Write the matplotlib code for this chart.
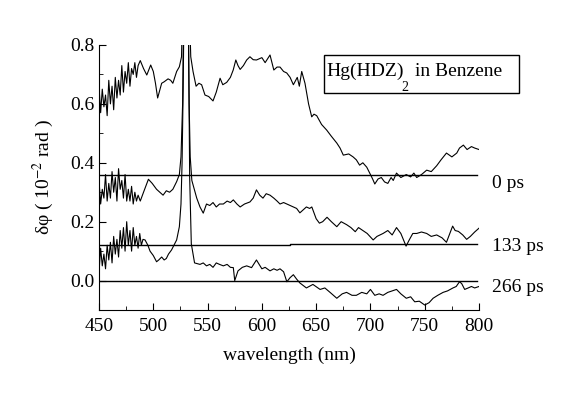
import numpy as np
import matplotlib.pyplot as plt
from matplotlib.ticker import MultipleLocator, FormatStrFormatter
from matplotlib.patches import Rectangle

plt.rcParams['font.family'] = 'Liberation Serif'
plt.rcParams['mathtext.fontset'] = 'stix'

# 0 ps spectrum (wavelength nm, delta phi)
wl_0 = [450, 451.5, 453, 454.5, 456, 457.5, 459, 460.5, 462, 463.5, 465, 466.5, 468, 469.5,
        471, 472.5, 474, 475.5, 477, 478.5, 480, 481.5, 483, 484.5, 486, 488, 491, 494, 497.6,
        500, 502, 504, 507.7, 510, 513.6, 516, 518, 521.5, 524, 526, 527, 528, 530, 532, 533,
        534.5, 536.6, 539.4, 542, 544.5, 547.6, 551, 555, 558, 561.5, 564, 567.6, 571, 573.6,
        576, 578, 580, 583, 586, 589, 592, 595, 600, 603, 607.5, 611, 614, 616.7, 620, 622.9,
        626, 629, 632.6, 634.5, 636.7, 639.7, 643, 645.9, 648, 650.5, 655, 659.7, 664, 669,
        672, 675, 680, 684, 687, 690, 693, 696.6, 700, 702, 704, 707, 710, 713, 716, 719, 721,
        724, 728, 733, 737, 740, 742.6, 747, 751.8, 756, 761, 765, 770, 775, 779.5, 782,
        785.6, 789, 793, 796, 800]
dphi_0 = [0.66, 0.57, 0.65, 0.59, 0.63, 0.56, 0.68, 0.60, 0.66, 0.58, 0.69, 0.62, 0.68, 0.63,
          0.73, 0.64, 0.71, 0.67, 0.74, 0.66, 0.72, 0.70, 0.74, 0.69, 0.73, 0.747, 0.72, 0.698,
          0.732, 0.71, 0.67, 0.62, 0.67, 0.675, 0.685, 0.68, 0.67, 0.71, 0.726, 0.76, 0.95, 1.3,
          1.6, 1.3, 0.95, 0.76, 0.71, 0.66, 0.67, 0.665, 0.63, 0.625, 0.61, 0.64, 0.687, 0.665,
          0.673, 0.69, 0.715, 0.749, 0.73, 0.717, 0.73, 0.749, 0.76, 0.75, 0.749, 0.757, 0.74,
          0.766, 0.715, 0.725, 0.725, 0.71, 0.705, 0.69, 0.665, 0.69, 0.66, 0.71, 0.67, 0.6,
          0.556, 0.565, 0.56, 0.53, 0.511, 0.49, 0.467, 0.45, 0.426, 0.43, 0.42, 0.41, 0.392,
          0.40, 0.385, 0.36, 0.345, 0.328, 0.345, 0.35, 0.335, 0.33, 0.35, 0.34, 0.365, 0.35,
          0.36, 0.352, 0.365, 0.35, 0.36, 0.375, 0.37, 0.39, 0.41, 0.433, 0.42, 0.433, 0.45,
          0.46, 0.445, 0.455, 0.45, 0.445]

# 133 ps spectrum
wl_133 = [450, 451.5, 453, 454.5, 456, 457.5, 459, 460.5, 462, 463.5, 465, 466.5, 468, 469.5,
          471, 472.5, 474, 475.5, 477, 478.5, 480, 481.5, 483, 484.5, 486, 488, 491, 495.5, 499,
          503, 506, 509, 512, 515, 518, 521.5, 524, 525.5, 527, 528, 530, 532, 533, 534,
          535.5, 537, 540, 543, 546, 549, 552, 555, 558, 561, 564.5, 568, 571, 573.7, 577, 580,
          584, 589, 592, 595, 598, 601, 604, 607.5, 611, 614, 616.7, 620, 623, 626, 629, 632,
          635, 638, 641, 644, 646, 650, 653, 656, 660, 664, 669, 673, 678, 682, 686, 689, 693,
          697, 702.5, 706, 711.6, 716, 720, 724, 728, 732.8, 736, 739, 742.6, 747, 751.8, 756,
          761, 766, 770, 775.7, 778, 781, 785, 788.6, 792, 796, 800]
dphi_133 = [0.34, 0.26, 0.31, 0.28, 0.36, 0.27, 0.33, 0.28, 0.37, 0.30, 0.35, 0.27, 0.38, 0.31,
            0.34, 0.28, 0.36, 0.27, 0.31, 0.27, 0.32, 0.26, 0.30, 0.27, 0.29, 0.27, 0.30, 0.344,
            0.33, 0.31, 0.30, 0.29, 0.305, 0.30, 0.31, 0.336, 0.36, 0.42, 0.6, 0.95, 1.4, 1.0,
            0.6, 0.42, 0.34, 0.32, 0.28, 0.25, 0.229, 0.26, 0.255, 0.265, 0.25, 0.26, 0.26, 0.27,
            0.265, 0.274, 0.26, 0.25, 0.26, 0.267, 0.28, 0.308, 0.29, 0.28, 0.295, 0.29, 0.28,
            0.27, 0.26, 0.265, 0.26, 0.255, 0.25, 0.245, 0.23, 0.24, 0.25, 0.245, 0.25, 0.21,
            0.195, 0.2, 0.215, 0.2, 0.183, 0.2, 0.19, 0.18, 0.166, 0.18, 0.17, 0.16, 0.138,
            0.15, 0.16, 0.17, 0.155, 0.18, 0.16, 0.117, 0.14, 0.16, 0.16, 0.165, 0.16, 0.15,
            0.155, 0.145, 0.13, 0.185, 0.17, 0.167, 0.155, 0.14, 0.15, 0.165, 0.178]

# 266 ps spectrum
wl_266 = [450, 451.5, 453, 454.5, 456, 457.5, 459, 460.5, 462, 463.5, 465, 466.5, 468, 469.5,
          471, 472.5, 474, 475.5, 477, 478.5, 480, 481.5, 483, 484.5, 486, 487.5, 489, 490.5,
          492.4, 495, 497, 500, 503, 505, 507.7, 510, 512, 514, 516.8, 519, 521.5, 524, 525.5,
          526.5, 527.5, 529, 531, 532.5, 533.5, 534.5, 535, 538, 543, 546, 549, 552, 555, 558,
          561, 564.5, 568, 571, 573.7, 575, 578, 582, 586, 590.5, 595, 600, 603, 607.5, 611,
          614, 616.7, 620, 623, 626, 629, 632, 635, 641, 647, 653.6, 658, 662.8, 669, 674, 678,
          683, 687, 692, 696.6, 700, 704, 708, 711.6, 716, 720, 724, 728, 733, 737, 740.8, 745,
          750, 754, 757.7, 762, 766.9, 771, 776, 779, 782, 784, 786.8, 790, 793, 796, 800]
dphi_266 = [0.03, 0.11, 0.05, 0.09, 0.04, 0.12, 0.07, 0.13, 0.06, 0.15, 0.09, 0.14, 0.08, 0.17,
            0.11, 0.18, 0.10, 0.20, 0.12, 0.17, 0.10, 0.18, 0.12, 0.15, 0.11, 0.16, 0.12, 0.14,
            0.138, 0.12, 0.10, 0.085, 0.064, 0.07, 0.08, 0.07, 0.075, 0.09, 0.104, 0.12, 0.138,
            0.183, 0.26, 0.4, 0.65, 1.2, 1.3, 0.8, 0.35, 0.2, 0.125, 0.06, 0.055, 0.06, 0.05,
            0.055, 0.045, 0.06, 0.055, 0.05, 0.055, 0.045, 0.044, 0.0, 0.033, 0.045, 0.05,
            0.044, 0.07, 0.04, 0.045, 0.033, 0.04, 0.035, 0.04, 0.03, -0.004, 0.01, 0.02, 0.005,
            -0.008, -0.025, -0.013, -0.03, -0.025, -0.04, -0.06, -0.045, -0.04, -0.05, -0.05,
            -0.04, -0.045, -0.03, -0.05, -0.045, -0.05, -0.04, -0.035, -0.03, -0.045, -0.06,
            -0.055, -0.072, -0.07, -0.083, -0.075, -0.06, -0.05, -0.04, -0.035, -0.025, -0.02,
            -0.004, -0.01, -0.03, -0.025, -0.02, -0.025, -0.02]

# zero lines of each delay
base_0 = 0.36
base_133 = 0.12
base_266 = 0.0
delays = ['0 ps', '133 ps', '266 ps']
label_y = [0.33, 0.115, -0.025]

fig = plt.figure(figsize=(5.77, 3.98), dpi=100)
ax = fig.add_axes([0.1716, 0.221, 0.6586, 0.666])

for wl, dphi in [(wl_0, dphi_0), (wl_133, dphi_133), (wl_266, dphi_266)]:
    ax.plot(wl, dphi, color='k', lw=0.8)

ax.plot([450, 798], [base_0, base_0], color='k', lw=1)
ax.plot([450, 626, 626, 798], [base_133, base_133, base_133 + 0.004, base_133 + 0.004], color='k', lw=1)
ax.plot([450, 798], [base_266, base_266], color='k', lw=1)

for lab, y in zip(delays, label_y):
    ax.text(812, y, lab, fontsize=14, va='center', ha='left', clip_on=False)

# title box with lowered subscript
fig.patches.append(Rectangle((0.5615, 0.7663), 0.338, 0.0955, transform=fig.transFigure,
                             fill=False, ec='k', lw=1))
fig.text(0.5650, 0.8216, 'Hg(HDZ)', fontsize=14, va='center', ha='left')
fig.text(0.7020, 0.7800, '2', fontsize=10, va='center', ha='center')
fig.text(0.7200, 0.8216, 'in Benzene', fontsize=14, va='center', ha='left')

ax.set_xlim(450, 800)
ax.set_ylim(-0.1, 0.8)
ax.xaxis.set_major_locator(MultipleLocator(50))
ax.xaxis.set_minor_locator(MultipleLocator(25))
ax.yaxis.set_major_locator(MultipleLocator(0.2))
ax.yaxis.set_minor_locator(MultipleLocator(0.1))
ax.yaxis.set_major_formatter(FormatStrFormatter('%.1f'))
ax.tick_params(which='both', direction='in', labelsize=14)
ax.tick_params(axis='x', which='major', pad=6)
ax.tick_params(which='major', length=5)
ax.tick_params(which='minor', length=3)
ax.spines['top'].set_visible(False)
ax.spines['right'].set_visible(False)

ax.set_xlabel('wavelength (nm)', fontsize=14, labelpad=8)
ax.set_ylabel(r'δφ ( 10$^{-2}$ rad )', fontsize=14, labelpad=10)

fig.savefig('out.png', dpi=100)
